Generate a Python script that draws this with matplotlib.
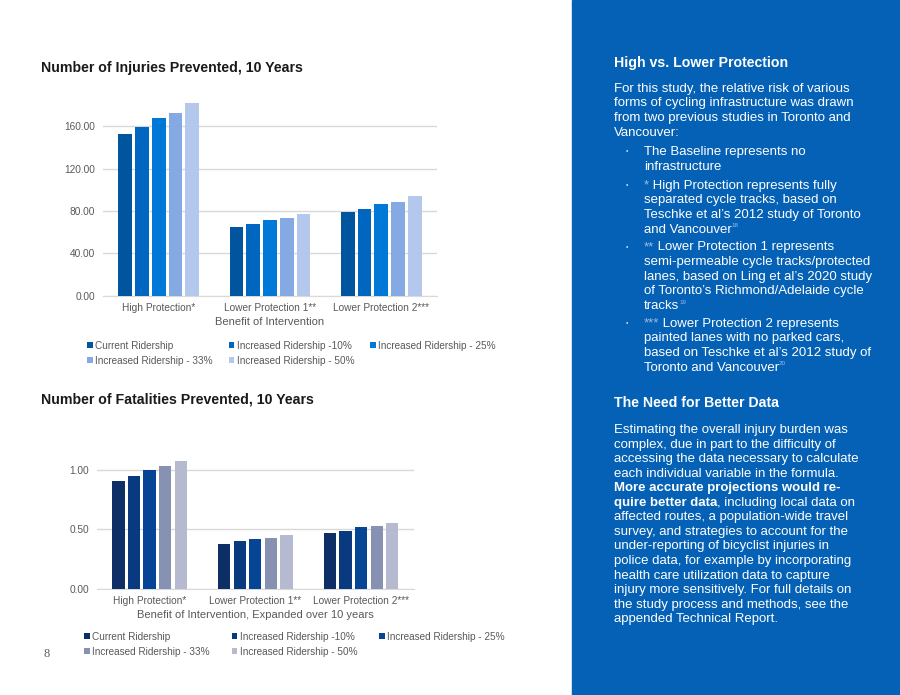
import numpy as np
import matplotlib
matplotlib.use('Agg')
import matplotlib.pyplot as plt
from matplotlib.patches import Rectangle

plt.rcParams['font.family'] = ['Liberation Sans', 'DejaVu Sans']

# data
categories = ['High Protection*', 'Lower Protection 1**', 'Lower Protection 2***']
series = ['Current Ridership', 'Increased Ridership -10%', 'Increased Ridership - 25%',
          'Increased Ridership - 33%', 'Increased Ridership - 50%']
injuries = [[152.8, 65.0, 78.7],
            [159.0, 68.0, 81.9],
            [167.6, 71.2, 86.3],
            [172.3, 73.4, 88.5],
            [181.7, 77.5, 93.9]]
fatalities = [[0.908, 0.380, 0.469],
              [0.944, 0.405, 0.489],
              [1.000, 0.422, 0.517],
              [1.031, 0.430, 0.525],
              [1.075, 0.455, 0.553]]
injury_ticks = [0, 40, 80, 120, 160]
fatality_ticks = [0, 0.5, 1.0]

blue_colors = ['#00559E', '#0066BF', '#0078D7', '#85A9E2', '#B4C7EC']
navy_colors = ['#0D2F66', '#09397F', '#064596', '#8792B2', '#B6BAD0']
GRAY = '#595959'
GRID = '#D9D9D9'
PANEL = '#0461B5'

W, H = 900, 695
fig = plt.figure(figsize=(9, 6.95), dpi=100)


def fx(px):
    return px / W


def fy(py):
    return 1 - py / H


def bar_chart(left, right, zero_y, px_per_unit, ymax, values, colors, yticks, fmt,
              slot, bar_w, xlabel, xlabel_y, leg_x, leg_y, colspace):
    top = zero_y - ymax * px_per_unit
    ax = fig.add_axes([fx(left), fy(zero_y), (right - left) / W, (zero_y - top) / H])
    x = np.arange(len(categories))
    n = len(values)
    for i, vals in enumerate(values):
        ax.bar(x + (i - (n - 1) / 2) * slot, vals, width=bar_w, color=colors[i],
               label=series[i], zorder=3)
    ax.set_xlim(-0.5, len(categories) - 0.5)
    ax.set_ylim(0, ymax)
    ax.set_yticks(yticks)
    ax.set_yticklabels([fmt.format(v) for v in yticks])
    ax.set_xticks(x)
    ax.set_xticklabels(categories)
    ax.tick_params(length=0, labelsize=7.3, labelcolor=GRAY)
    ax.tick_params(axis='y', pad=5.5)
    ax.tick_params(axis='x', pad=5)
    for s in ['top', 'right', 'left']:
        ax.spines[s].set_visible(False)
    ax.spines['bottom'].set_color(GRID)
    ax.yaxis.grid(True, color=GRID, lw=1)
    ax.set_axisbelow(True)
    ax.patch.set_alpha(0)
    fig.text(fx((left + right) / 2), fy(xlabel_y), xlabel, ha='center', va='center',
             fontsize=8, color=GRAY)
    h, l = ax.get_legend_handles_labels()
    order = [0, 3, 1, 4, 2]
    ax.legend([h[k] for k in order], [l[k] for k in order], ncol=3, frameon=False,
              loc='upper left', bbox_to_anchor=(fx(leg_x), fy(leg_y)),
              bbox_transform=fig.transFigure, fontsize=7.2, labelcolor=GRAY,
              handlelength=0.55, handleheight=0.55, handletextpad=0.25,
              columnspacing=colspace, borderpad=0, borderaxespad=0, labelspacing=0.5)
    return ax


bar_chart(103, 437, 295.7, 1.058, 185, injuries, blue_colors, injury_ticks, '{:.2f}',
          0.151, 0.123, 'Benefit of Intervention', 322, 87, 341, 1.6)
bar_chart(96.7, 414, 589, 119.3, 1.12, fatalities, navy_colors, fatality_ticks, '{:.2f}',
          0.1475, 0.116, 'Benefit of Intervention, Expanded over 10 years', 615, 84, 632, 2.2)

fig.text(fx(41), fy(68), 'Number of Injuries Prevented, 10 Years', fontsize=10.2,
         fontweight='bold', color='#1a1a1a', va='center')
fig.text(fx(41), fy(400), 'Number of Fatalities Prevented, 10 Years', fontsize=10.2,
         fontweight='bold', color='#1a1a1a', va='center')
fig.text(fx(43), fy(654), '8', fontsize=9, color=GRAY, va='center',
         family=['Liberation Serif', 'DejaVu Serif'])

# right hand text panel
fig.patches.append(Rectangle((fx(572), 0), 1 - fx(572), 1, transform=fig.transFigure,
                             color=PANEL, zorder=0))

renderer = fig.canvas.get_renderer()
BODY = 9.5
STAR = '#9DBCE6'


def text_line(x, y, parts):
    # parts: list of (text, weight, color, size, raise_px)
    for s, w, c, sz, up in parts:
        t = fig.text(fx(x), fy(y - up), s, fontsize=sz, fontweight=w, color=c,
                     va='center')
        bb = t.get_window_extent(renderer)
        x += bb.width


def plain(s):
    return [(s, 'normal', 'white', BODY, 0)]


fig.text(fx(614), fy(62.7), 'High vs. Lower Protection', fontsize=10.2,
         fontweight='bold', color='white', va='center')
intro = ['For this study, the relative risk of various',
         'forms of cycling infrastructure was drawn',
         'from two previous studies in Toronto and',
         'Vancouver:']
for i, s in enumerate(intro):
    text_line(614, 88.7 + 14.7 * i, plain(s))

bullets = [
    (152.0, [plain('The Baseline represents no'), plain('infrastructure')]),
    (185.7, [[('*', 'normal', STAR, BODY, 0), (' High Protection represents fully', 'normal', 'white', BODY, 0)],
             plain('separated cycle tracks, based on'),
             plain('Teschke et al\u2019s 2012 study of Toronto'),
             [('and Vancouver', 'normal', 'white', BODY, 0), ('18', 'normal', STAR, 4.5, 4)]]),
    (247.3, [[('**', 'normal', STAR, BODY, 0), (' Lower Protection 1 represents', 'normal', 'white', BODY, 0)],
             plain('semi-permeable cycle tracks/protected'),
             plain('lanes, based on Ling et al\u2019s 2020 study'),
             plain('of Toronto\u2019s Richmond/Adelaide cycle'),
             [('tracks', 'normal', 'white', BODY, 0), ('19', 'normal', STAR, 4.5, 4)]]),
    (323.7, [[('***', 'normal', STAR, BODY, 0), (' Lower Protection 2 represents', 'normal', 'white', BODY, 0)],
             plain('painted lanes with no parked cars,'),
             plain('based on Teschke et al\u2019s 2012 study of'),
             [('Toronto and Vancouver', 'normal', 'white', BODY, 0), ('20', 'normal', STAR, 4.5, 4)]]),
]
for y0, lines in bullets:
    fig.text(fx(627), fy(y0), '\u2022', fontsize=5, color='#C8D8F0', va='center', ha='center')
    for i, parts in enumerate(lines):
        text_line(644, y0 + 14.7 * i, parts)

fig.text(fx(614), fy(403.3), 'The Need for Better Data', fontsize=10.2,
         fontweight='bold', color='white', va='center')
need = [plain('Estimating the overall injury burden was'),
        plain('complex, due in part to the difficulty of'),
        plain('accessing the data necessary to calculate'),
        plain('each individual variable in the formula.'),
        [('More accurate projections would re-', 'bold', 'white', BODY, 0)],
        [('quire better data', 'bold', 'white', BODY, 0),
         (', including local data on', 'normal', 'white', BODY, 0)],
        plain('affected routes, a population-wide travel'),
        plain('survey, and strategies to account for the'),
        plain('under-reporting of bicyclist injuries in'),
        plain('police data, for example by incorporating'),
        plain('health care utilization data to capture'),
        plain('injury more sensitively. For full details on'),
        plain('the study process and methods, see the'),
        plain('appended Technical Report.')]
for i, parts in enumerate(need):
    text_line(614, 430 + 14.56 * i, parts)

fig.savefig('out.png', dpi=100)
